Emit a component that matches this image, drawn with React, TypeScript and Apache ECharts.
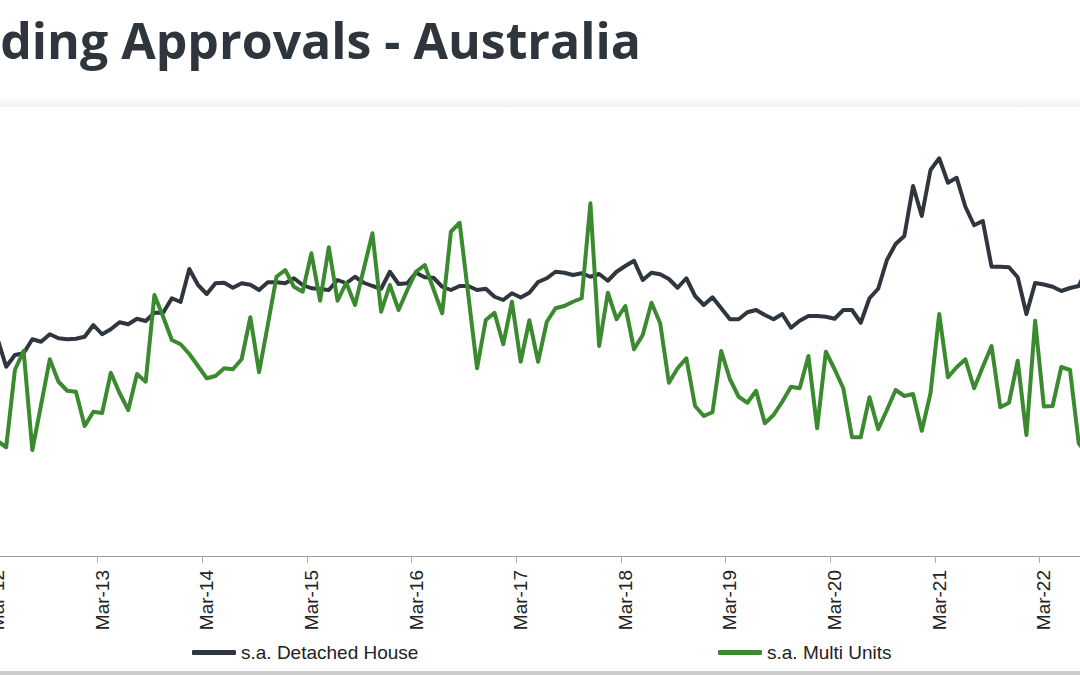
import React, { useEffect, useRef } from 'react';
import * as echarts from 'echarts';

// Monthly categories Jan-12 .. Aug-22
const MONTH_NAMES = ['Jan', 'Feb', 'Mar', 'Apr', 'May', 'Jun', 'Jul', 'Aug', 'Sep', 'Oct', 'Nov', 'Dec'];
const FIRST_YEAR = 2012;
const LAST_YEAR = 2022;
const LAST_MONTH_INDEX = 7; // Aug
const categories: string[] = [];
for (let y = FIRST_YEAR; y <= LAST_YEAR; y++) {
  for (let m = 0; m < 12; m++) {
    if (y === LAST_YEAR && m > LAST_MONTH_INDEX) break;
    categories.push(`${MONTH_NAMES[m]}-${String(y).slice(2)}`);
  }
}

const TITLE = 'Building Approvals - Australia';
const SERIES_NAMES = ['s.a. Detached House', 's.a. Multi Units'];

const detachedHouse = [
  8960, 9040, 8700, 7570, 8040, 8110, 8670, 8570, 8870, 8710, 8670, 8690,
  8770, 9240, 8870, 9070, 9350, 9270, 9490, 9400, 9730, 9730, 10310, 10160,
  11480, 10840, 10480, 10910, 10930, 10730, 10910, 10850, 10640, 10950, 10950, 10910,
  11110, 10840, 10710, 10680, 10640, 11040, 10910, 11170, 10930, 10800, 10690, 11370,
  10880, 10910, 11330, 11150, 11130, 10770, 10640, 10800, 10800, 10640, 10690, 10370,
  10240, 10510, 10340, 10530, 10960, 11110, 11370, 11330, 11240, 11310, 11170, 11280,
  11010, 11370, 11600, 11810, 11040, 11330, 11270, 11080, 10730, 11110, 10400, 10040,
  10350, 9910, 9470, 9470, 9750, 9840, 9640, 9470, 9680, 9130, 9410, 9600,
  9600, 9570, 9490, 9840, 9840, 9330, 10310, 10690, 11840, 12480, 12800, 14800,
  13600, 15440, 15910, 14930, 15130, 13970, 13230, 13400, 11570, 11570, 11550, 11150,
  9680, 10920, 10860, 10770, 10600, 10720, 10800, 11520,
];

const multiUnits = [
  6240, 5040, 4600, 4350, 7440, 8210, 4240, 6040, 7870, 6970, 6610, 6570,
  5200, 5770, 5720, 7330, 6520, 5840, 7280, 6970, 10440, 9570, 8640, 8470,
  8080, 7600, 7110, 7200, 7510, 7470, 7870, 9550, 7350, 9240, 11170, 11440,
  10770, 10570, 12110, 10210, 12350, 10210, 10930, 10040, 11470, 12910, 9770, 10840,
  9840, 10640, 11370, 11640, 10680, 9710, 12970, 13330, 10430, 7510, 9440, 9730,
  8470, 10170, 7770, 9430, 7770, 9370, 9910, 10000, 10170, 10310, 14110, 8400,
  10530, 9470, 10000, 8270, 8840, 10130, 9310, 6930, 7510, 7910, 6000, 5600,
  5750, 8200, 7070, 6370, 6130, 6610, 5310, 5640, 6170, 6770, 6710, 8000,
  5110, 8170, 7470, 6710, 4750, 4750, 6350, 5070, 5840, 6640, 6400, 6480,
  5010, 6510, 9680, 7150, 7550, 7870, 6710, 7570, 8400, 5950, 6130, 7810,
  4840, 9410, 5980, 6000, 7560, 7440, 4510, 4040,
];

const Y_MIN = 0;
const Y_MAX = 18000;

const COLOR_HOUSE = '#2f363d';
const COLOR_MULTI = '#3b8a2f';
const AXIS_FONT = '"Liberation Sans", Arial, sans-serif';

// The chart canvas is wider than the page; the page shows a cropped window of it.
const PAGE_W = 1080;
const PAGE_H = 675;
const PAD_L = 40;
const PAD_R = 40;
const CHART_W = PAGE_W + PAD_L + PAD_R;

export default function App() {
  const ref = useRef<HTMLDivElement>(null);

  useEffect(() => {
    if (!ref.current) return;
    const chart = echarts.init(ref.current, null, { renderer: 'svg' });
    const isMar = (_i: number, v: string) => v.startsWith('Mar');
    chart.setOption({
      animation: false,
      backgroundColor: '#ffffff',
      graphic: [
        {
          type: 'rect',
          shape: { x: 0, y: 95, width: CHART_W, height: 12 },
          style: {
            fill: new echarts.graphic.LinearGradient(0, 0, 0, 1, [
              { offset: 0, color: '#ffffff' },
              { offset: 1, color: '#f1f1f1' },
            ]),
          },
          silent: true,
        },
        {
          type: 'rect',
          shape: { x: 0, y: 671, width: CHART_W, height: 4 },
          style: { fill: '#cbcbcb' },
          silent: true,
        },
        {
          type: 'text',
          x: PAD_L + 641,
          y: 40,
          style: {
            text: TITLE,
            font: '700 50px "Open Sans", sans-serif',
            fill: '#2e353c',
            align: 'right',
            verticalAlign: 'middle',
            textAlign: 'right',
            textVerticalAlign: 'middle',
          },
        },
      ],
      legend: [
        {
          data: [SERIES_NAMES[0]],
          left: PAD_L + 192,
          top: 643,
          padding: 0,
          icon: 'roundRect',
          itemWidth: 44,
          itemHeight: 5,
          textStyle: { fontSize: 19, color: '#222', fontFamily: AXIS_FONT },
        },
        {
          data: [SERIES_NAMES[1]],
          left: PAD_L + 718,
          top: 643,
          padding: 0,
          icon: 'roundRect',
          itemWidth: 44,
          itemHeight: 5,
          textStyle: { fontSize: 19, color: '#222', fontFamily: AXIS_FONT },
        },
      ],
      grid: {
        left: PAD_L - 24.34,
        right: PAD_R - 11.82,
        top: 106,
        bottom: 119,
        containLabel: false,
        outerBoundsMode: 'none',
      },
      xAxis: {
        type: 'category',
        data: categories,
        boundaryGap: true,
        axisLine: { show: true, lineStyle: { color: '#9c9c9c', width: 1 } },
        axisTick: { show: true, interval: isMar, length: 7, lineStyle: { color: '#aaaaaa' } },
        axisLabel: {
          interval: isMar,
          rotate: 90,
          margin: 14,
          fontSize: 19,
          color: '#222',
          fontFamily: AXIS_FONT,
        },
        splitLine: { show: false },
      },
      yAxis: {
        type: 'value',
        min: Y_MIN,
        max: Y_MAX,
        show: false,
        splitLine: { show: false },
      },
      series: [
        {
          name: SERIES_NAMES[0],
          type: 'line',
          data: detachedHouse,
          showSymbol: false,
          symbol: 'none',
          color: COLOR_HOUSE,
          lineStyle: { width: 4, color: COLOR_HOUSE, join: 'round' },
          z: 2,
        },
        {
          name: SERIES_NAMES[1],
          type: 'line',
          data: multiUnits,
          showSymbol: false,
          symbol: 'none',
          color: COLOR_MULTI,
          lineStyle: { width: 4, color: COLOR_MULTI, join: 'round' },
          z: 3,
        },
      ],
    });
    return () => chart.dispose();
  }, []);

  return (
    <div
      style={{
        position: 'fixed',
        left: 0,
        top: 0,
        width: PAGE_W,
        height: PAGE_H,
        overflow: 'hidden',
        background: '#fff',
      }}
    >
      <div
        ref={ref}
        style={{ position: 'absolute', left: -PAD_L, top: 0, width: CHART_W, height: PAGE_H }}
      />
    </div>
  );
}
